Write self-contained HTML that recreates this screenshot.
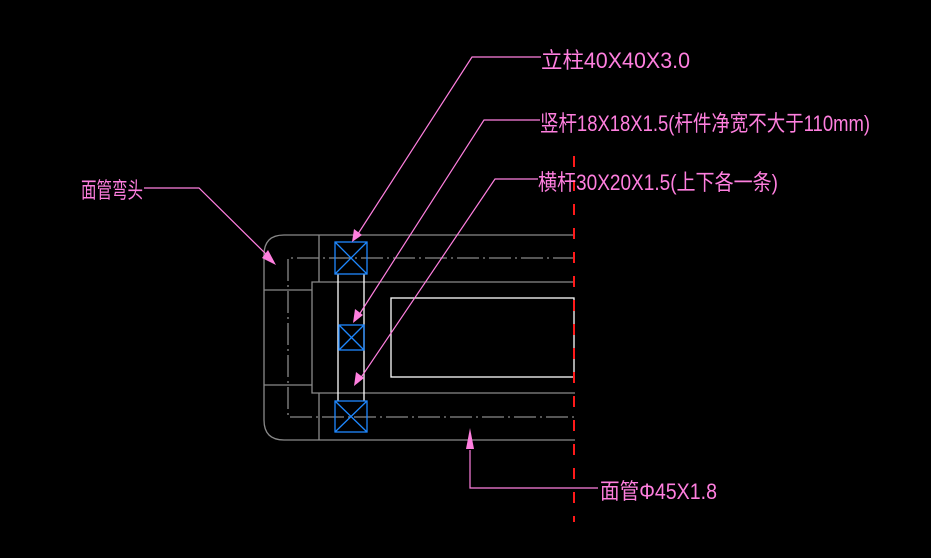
<!DOCTYPE html>
<html><head><meta charset="utf-8"><style>
html,body{margin:0;padding:0;background:#000;width:931px;height:558px;overflow:hidden}
svg{display:block}
text{font-family:"Liberation Sans","Noto Sans CJK SC",sans-serif;fill:#ff7fdf;font-size:22px}
</style></head><body>
<svg width="931" height="558" viewBox="0 0 931 558">
<g stroke="#8a8a8a" stroke-width="1.3" fill="none">
<path d="M575 235 H284 Q264 235 264 255 V420 Q264 440 284 440 H575"/>
<path d="M575 282 H312 V393 H575"/>
<path d="M264 290 H312 M264 385 H312"/>
<path d="M319 235 V282 M319 393 V440"/>
<path d="M575 258 H288 V417 H575" stroke-dasharray="22,4,2,4"/>
</g>
<g stroke="#fff" stroke-width="1.3" fill="none">
<path d="M338 274 V401 M364 274 V401"/>
<rect x="391" y="298" width="183" height="79"/>
</g>
<g stroke="#1e88ff" stroke-width="1.3" fill="none">
<rect x="335" y="242" width="32" height="32"/><path d="M335 242 L367 274 M367 242 L335 274"/>
<rect x="339" y="325" width="25" height="25"/><path d="M339 325 L364 350 M364 325 L339 350"/>
<rect x="335" y="401" width="32" height="31"/><path d="M335 401 L367 432 M367 401 L335 432"/>
</g>
<line x1="574" y1="156" x2="574" y2="522" stroke="#ff1a1a" stroke-width="2" stroke-dasharray="11,13"/>
<g stroke="#ff7fdf" stroke-width="1.2" fill="none">
<path d="M541 57 H472 L356 237"/>
<path d="M540 120 H484 L357 318"/>
<path d="M538 179 H495 L358 382"/>
<path d="M144 188 H199 L271 259"/>
<path d="M470 450 V488 H598"/>
</g>
<g fill="#ff7fdf">
<polygon points="352,242 354,229 362,235"/>
<polygon points="353,323 355,309 363,315"/>
<polygon points="354,386 356,372 364,378"/>
<polygon points="276,265 262,258 268,250"/>
<polygon points="470,428 466,449 474,449"/>
</g>
<text x="541" y="68" textLength="149" lengthAdjust="spacingAndGlyphs">立柱40X40X3.0</text>
<text x="540" y="131" textLength="330" lengthAdjust="spacingAndGlyphs">竖杆18X18X1.5(杆件净宽不大于110mm)</text>
<text x="538" y="190" textLength="240" lengthAdjust="spacingAndGlyphs">横杆30X20X1.5(上下各一条)</text>
<text x="81" y="198" textLength="62" lengthAdjust="spacingAndGlyphs">面管弯头</text>
<text x="600" y="499" textLength="117" lengthAdjust="spacingAndGlyphs">面管Φ45X1.8</text>
</svg>
</body></html>
